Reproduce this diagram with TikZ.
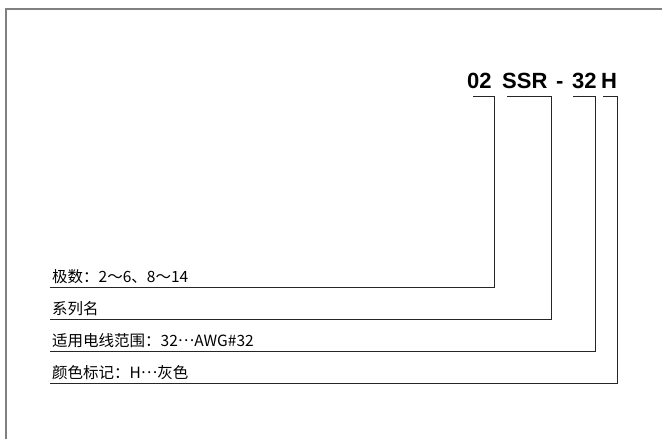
\documentclass[tikz,border=0pt]{standalone}
\usepackage{fontspec}
\setmainfont{Liberation Sans}
\newfontfamily\cjk{Noto Sans CJK SC}
\newcommand{\middots}{\raisebox{0.32em}{…}}

\begin{document}
\begin{tikzpicture}[x=1pt, y=-1pt]
    % Styles
    \tikzset{code part/.style={inner sep=0pt, anchor=base west, font=\fontsize{22}{22}\selectfont\bfseries},
             item text/.style={inner sep=0pt, anchor=base west, font=\cjk\fontsize{15.5}{16}\selectfont},
             lead line/.style={draw=black!85, line width=0.9pt}}

    \useasboundingbox (0,0) rectangle (662,439);

    % Frame (top and left edge)
    \draw[gray, line width=1.5pt] (6,439) -- (6,9) -- (662,9);

    % Part number
    \node[code part] (n02) at (467,88) {02};
    \node[code part] (nSSR) at (502,88) {SSR};
    \node[code part] (ndash) at (556,88) {-};
    \node[code part] (n32) at (572,88) {32};
    \node[code part] (nH) at (601,88) {H};

    % Bracket tops over each part
    \coordinate (a1) at (473,96);  \coordinate (b1) at (494,96);
    \coordinate (a2) at (507,96);  \coordinate (b2) at (551,96);
    \coordinate (a3) at (573,96);  \coordinate (b3) at (595,96);
    \coordinate (a4) at (603,96);  \coordinate (b4) at (617,96);

    % Left ends of the lines
    \coordinate (e1) at (50,287);
    \coordinate (e2) at (50,319);
    \coordinate (e3) at (50,351);
    \coordinate (e4) at (50,383);

    % Descriptions
    \node[item text] (poles) at (52,282) {极数：2～6、8～14};
    \node[item text] (series) at (52,314) {系列名};
    \node[item text] (wire) at (52,346) {适用电线范围：32\middots AWG\#32};
    \node[item text] (colour) at (52,378) {颜色标记：H\middots 灰色};

    % Lead lines
    \draw[lead line] (a1) -- (b1) |- (e1);
    \draw[lead line] (a2) -- (b2) |- (e2);
    \draw[lead line] (a3) -- (b3) |- (e3);
    \draw[lead line] (a4) -- (b4) |- (e4);
\end{tikzpicture}
\end{document}
